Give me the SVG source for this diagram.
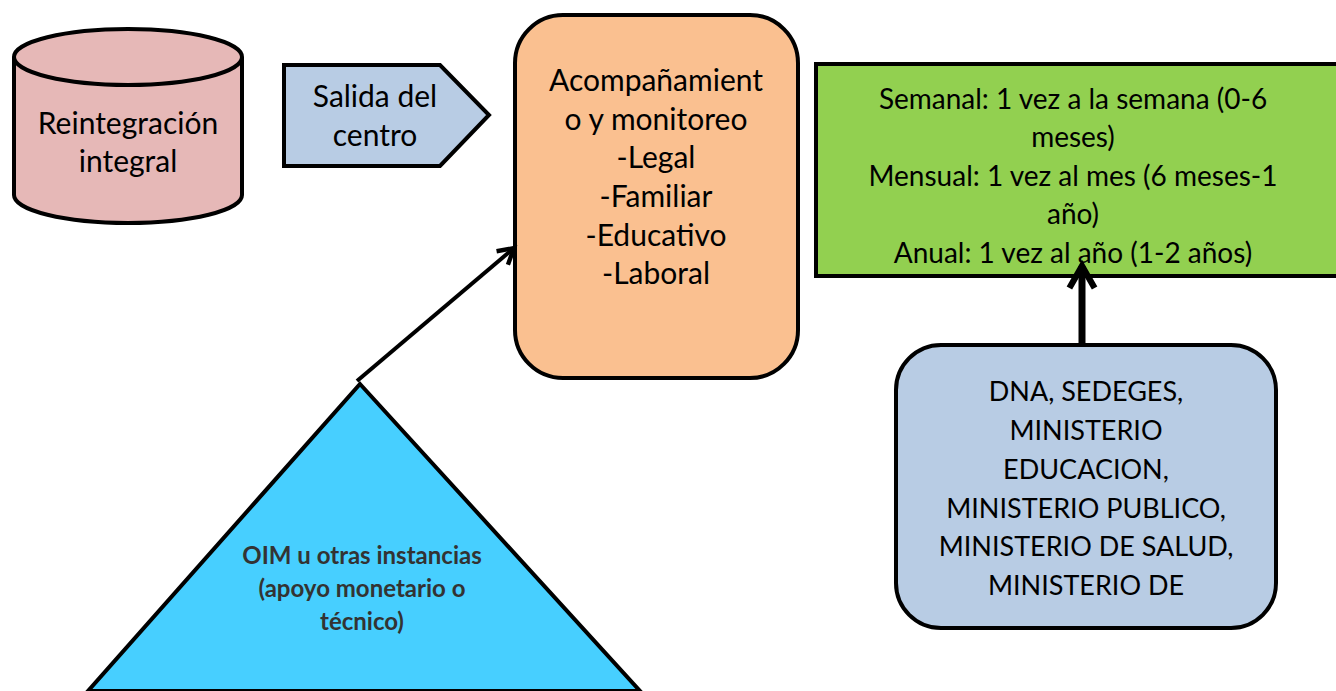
<svg xmlns="http://www.w3.org/2000/svg" width="1336" height="691" viewBox="0 0 1336 691">
<style>
.t{font-family:Lato,"Open Sans","Liberation Sans",sans-serif;font-size:28px;fill:#000;text-anchor:middle}
.l{font-size:30px}
.u{font-size:27px}
.b{font-family:Lato,"Open Sans","Liberation Sans",sans-serif;font-size:24px;font-weight:bold;fill:#333;text-anchor:middle}
.s{stroke:#000;stroke-width:4}
</style>
<defs>
<marker id="chev" viewBox="0 0 10 10" refX="8" refY="5" markerWidth="5.5" markerHeight="5.5" orient="auto" markerUnits="strokeWidth">
<path d="M1,1 L8,5 L1,9" fill="none" stroke="#000" stroke-width="2"/>
</marker>
<marker id="chev2" viewBox="0 0 10 10" refX="8" refY="5" markerWidth="4.5" markerHeight="4.5" orient="auto" markerUnits="strokeWidth">
<path d="M1,1 L8,5 L1,9" fill="none" stroke="#000" stroke-width="2"/>
</marker>
</defs>
<rect width="1336" height="691" fill="#fff"/>
<g id="reintegracion">
<path class="s" d="M14,57 L14,195 A114,28 0 0 0 242,195 L242,57 A114,28 0 0 0 14,57 Z" fill="#E6B8B7"/>
<path class="s" d="M14,57 A114,28 0 0 0 242,57" fill="none"/>
<text class="t l" x="128" y="134">Reintegración</text>
<text class="t l" x="128" y="172">integral</text>
</g>
<g id="salida">
<path class="s" d="M284,65 L440,65 L489,115 L440,166 L284,166 Z" fill="#B8CCE4"/>
<text class="t l" x="375" y="107">Salida del</text>
<text class="t l" x="375" y="146">centro</text>
</g>
<g id="acompanamiento">
<rect class="s" x="515" y="15" width="283" height="363" rx="48" fill="#FAC090"/>
<text class="t l" x="656" y="91">Acompañamient</text>
<text class="t l" x="656" y="130">o y monitoreo</text>
<text class="t l" x="656" y="168">-Legal</text>
<text class="t l" x="656" y="207">-Familiar</text>
<text class="t l" x="656" y="246">-Educativo</text>
<text class="t l" x="656" y="284">-Laboral</text>
</g>
<g id="frecuencia">
<rect class="s" x="816" y="64" width="530" height="212" fill="#92D050"/>
<text class="t" x="1073" y="109">Semanal: 1 vez a la semana (0-6</text>
<text class="t" x="1073" y="147">meses)</text>
<text class="t" x="1073" y="186">Mensual: 1 vez al mes (6 meses-1</text>
<text class="t" x="1073" y="224">año)</text>
<text class="t" x="1073" y="263">Anual: 1 vez al año (1-2 años)</text>
</g>
<g id="instituciones">
<rect class="s" x="896" y="345" width="380" height="283" rx="45" fill="#B8CCE4"/>
<text class="t u" x="1086" y="401">DNA, SEDEGES,</text>
<text class="t u" x="1086" y="440">MINISTERIO</text>
<text class="t u" x="1086" y="479">EDUCACION,</text>
<text class="t u" x="1086" y="518">MINISTERIO PUBLICO,</text>
<text class="t u" x="1086" y="556">MINISTERIO DE SALUD,</text>
<text class="t u" x="1086" y="595">MINISTERIO DE</text>
</g>
<g id="oim">
<path class="s" d="M360,384 L640,691 L88,691 Z" fill="#47CFFF"/>
<text class="b" x="362" y="564">OIM u otras instancias</text>
<text class="b" x="362" y="597">(apoyo monetario o</text>
<text class="b" x="362" y="630">técnico)</text>
</g>
<g id="connectors" fill="none" stroke="#000">
<path d="M357,381 L514,248" stroke-width="4" marker-end="url(#chev)"/>
<path d="M1082,343 L1082,266" stroke-width="7" marker-end="url(#chev2)"/>
</g>
</svg>
